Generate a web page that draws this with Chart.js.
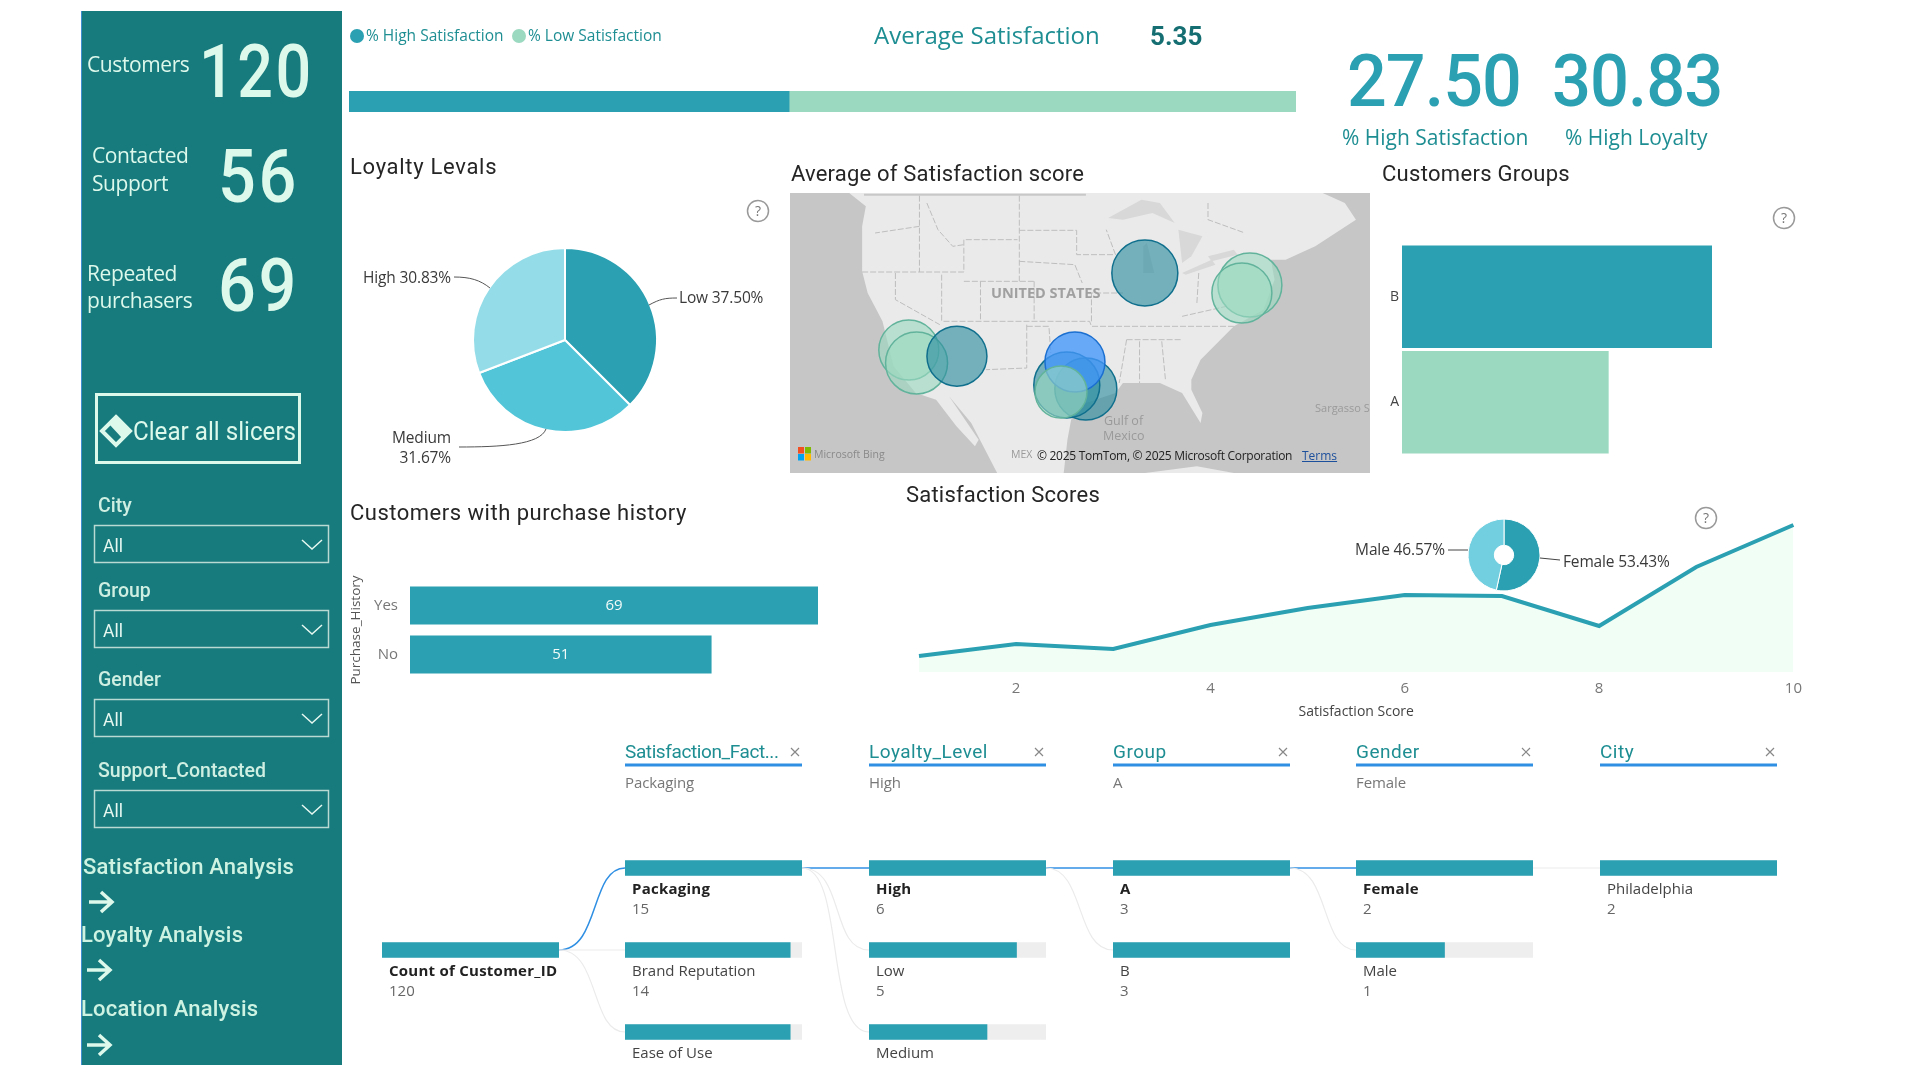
<!DOCTYPE html>
<html>
<head>
<meta charset="utf-8">
<title>Customer Satisfaction Dashboard</title>
<script src="https://cdn.jsdelivr.net/npm/chart.js@4"></script>
<style>
  html, body { margin: 0; padding: 0; background: #fff; }
  #page { position: relative; width: 1920px; height: 1080px; overflow: hidden; font-family: "Open Sans", sans-serif; }
  #sidebar { position: absolute; left: 81px; top: 11px; width: 261px; height: 1054px; background: #177A7D; border-left: 1px solid #3F8FD0; box-sizing: border-box; }
  #map { position: absolute; left: 790px; top: 193px; width: 580px; height: 280px; }
  canvas { position: absolute; }
  #overlay { position: absolute; left: 0; top: 0; }
  .t { position: absolute; white-space: nowrap; line-height: 1; }
  .din { font-family: Roboto, sans-serif; }
  .side { color: #DDF9EC; font-size: 21px; letter-spacing: -0.4px; }
  .kpi { color: #DDF9EC; font-family: Roboto, sans-serif; font-size: 74px; font-weight: 500; letter-spacing: 3px; }
  .slicer { color: #CFEFE2; font-family: Roboto, sans-serif; font-size: 19.5px; font-weight: 500; }
  .all { color: #E6F8F0; font-family: Roboto, sans-serif; font-size: 17.5px; }
  .nav { color: #CFF3E3; font-family: Roboto, sans-serif; font-size: 22px; font-weight: 500; letter-spacing: 0.2px; }
  .title { color: #252525; font-family: Roboto, sans-serif; font-size: 22px; letter-spacing: 0.2px; }
  .teal { color: #1E8E93; }
  .big { color: #2AA0B2; font-family: Roboto, sans-serif; font-size: 73px; font-weight: 500; letter-spacing: -1px; }
  .slice { color: #3A3A3A; font-size: 15.5px; letter-spacing: -0.15px; }
  .head { color: #1E8E93; font-family: Roboto, sans-serif; font-size: 19px; letter-spacing: 0.5px; }
  .sub { color: #777; font-size: 15px; letter-spacing: -0.1px; }
  .node { color: #444; font-size: 15px; }
  .node.on { color: #222; font-weight: 700; letter-spacing: 0.25px; }
  .val { color: #666; font-size: 15px; }
  .mapt { color: #9A9A9A; font-size: 12.5px; }
  #map path, #map polygon { vector-effect: non-scaling-stroke; }
</style>
</head>
<body>
<div id="page">
  <div id="sidebar"></div>
  <svg id="map" viewBox="0 0 1568 840" preserveAspectRatio="none" width="580" height="280">
    <rect width="1568" height="840" fill="#C6C6C6"/>
    <polygon fill="#EAEAEA" points="160,0 205,40 195,100 195,235 210,300 250,385 280,520 340,600 395,620 450,700 500,760 510,740 430,610 490,690 560,840 740,840 750,740 760,680 800,630 880,600 900,570 1000,570 1060,600 1110,690 1115,660 1085,590 1085,560 1110,500 1200,400 1280,350 1310,260 1300,200 1340,200 1420,160 1530,80 1500,30 1440,0"/>
    <polygon fill="#EAEAEA" points="960,840 1100,820 1200,840"/>
    <g fill="#D8D8D8">
      <polygon points="860,75 950,20 1000,30 1040,90 980,60 900,80"/>
      <polygon points="965,150 985,240 955,240 955,160"/>
      <polygon points="1050,110 1115,130 1085,190 1060,210"/>
      <polygon points="1060,240 1140,200 1150,215 1070,245"/>
      <polygon points="1130,190 1200,170 1210,185 1140,205"/>
    </g>
    <path d="M200,5 H800" fill="none" stroke="#C8C8C8" stroke-width="2"/>
    <g fill="none" stroke="#BEBEBE" stroke-width="1" stroke-dasharray="6 2">
      <path d="M195,237 H470 V140 H615 M350,8 V237 M620,8 V265 M470,265 H660"/>
      <path d="M620,112 H775 V185 H880 M620,205 L770,215 L790,270"/>
      <path d="M515,265 V385 M410,245 V385 M285,240 V320 L405,395 M415,385 H810 L815,400 H1200"/>
      <path d="M640,395 V525 L530,530 M660,265 V385 M815,385 V300 H900 M640,400 H700 L705,480"/>
      <path d="M910,440 L890,570 M945,445 V570 M1005,445 L1015,560 M910,440 H1060 M1105,240 L1100,330 M1060,370 L1180,340"/>
      <path d="M350,100 L230,120 M370,30 L400,110 L440,160 L470,155 M880,185 L855,110 M1130,30 V80 L1230,120"/>
    </g>
  </svg>
  <canvas id="mapChart" width="580" height="280" style="left:790px;top:193px"></canvas>
  <canvas id="satisfactionBar" width="947" height="21" style="left:349px;top:91px"></canvas>
  <canvas id="loyaltyPie" width="200" height="200" style="left:465px;top:240px"></canvas>
  <canvas id="groupChart" width="372" height="239" style="left:1340px;top:230px"></canvas>
  <canvas id="purchaseChart" width="473" height="140" style="left:345px;top:560px"></canvas>
  <canvas id="scoreChart" width="905" height="205" style="left:905px;top:515px"></canvas>
  <canvas id="genderChart" width="340" height="90" style="left:1334px;top:510px"></canvas>
  <svg id="overlay" width="1920" height="1080"></svg>
</div>
<script>
const highLowLabels = ["% High Satisfaction", "% Low Satisfaction"];
const highLowValues = [27.5, 31.67];

const loyaltyLabels = ["Low", "Medium", "High"];
const loyaltyValues = [37.5, 31.67, 30.83];

const groupLabels = ["B", "A"];
const groupValues = [72, 48];

const purchaseLabels = ["Yes", "No"];
const purchaseValues = [69, 51];

const scoreValues = [1, 2, 3, 4, 5, 6, 7, 8, 9, 10];
const scoreHeights = [16, 28, 23, 47, 64, 77, 76, 46, 105, 147]; // y axis is hidden in the source, relative reading
const scoreTicks = [2, 4, 6, 8, 10];

const genderLabels = ["Female", "Male"];
const genderValues = [53.43, 46.57];

const cityLon = [-87.6, -74.07, -75.1, -118, -117, -111.8, -95.2, -97.65, -96.6, -98.4];
const cityLat = [41.9, 40.67, 39.86, 34.03, 32.7, 33.4, 30.04, 30.45, 32.8, 29.73];
const citySize = [33, 32, 30, 30, 31, 30, 31, 33, 30, 26];
const cityBand = ["mid", "low", "low", "low", "low", "mid", "mid", "mid", "top", "low"];

const factorLabels = ["Packaging", "Brand Reputation", "Ease of Use"];
const factorValues = [15, 14, 14];
const loyaltyNodeLabels = ["High", "Low", "Medium"];
const loyaltyNodeValues = [6, 5, 4];
const treeGroupLabels = ["A", "B"];
const treeGroupValues = [3, 3];
const treeGenderLabels = ["Female", "Male"];
const treeGenderValues = [2, 1];
const cityLabels = ["Philadelphia"];
const cityValues = [2];
const treeHeaders = ["Satisfaction_Fact...", "Loyalty_Level", "Group", "Gender", "City"];
const treeSelected = ["Packaging", "High", "A", "Female", ""];

const TEAL = "#2AA0B2";
const MINT = "#9BD9C0";
const bandFill = { mid: "rgba(42,140,160,0.62)", low: "rgba(155,217,192,0.62)", top: "rgba(66,150,250,0.78)" };
const bandLine = { mid: "#0F6F8C", low: "#62B39B", top: "#1A6FD0" };

Chart.defaults.animation = false;
Chart.defaults.responsive = false;
Chart.defaults.font.family = "'Open Sans', sans-serif";
Chart.defaults.layout.autoPadding = false;
Chart.defaults.plugins.legend.display = false;
Chart.defaults.plugins.tooltip.enabled = false;

const page = document.getElementById("page");
const overlay = document.getElementById("overlay");

function text(str, x, y, cls, right) {
  const el = document.createElement("div");
  el.className = "t " + cls;
  el.textContent = str;
  el.style.left = x + "px";
  el.style.top = y + "px";
  el.style.transform = right ? "translate(-100%,-50%)" : "translateY(-50%)";
  page.appendChild(el);
  return el;
}

function squeeze(el, k) {
  el.style.transformOrigin = "0 50%";
  el.style.transform += ` scaleX(${k})`;
  return el;
}

function svg(markup) {
  overlay.insertAdjacentHTML("beforeend", markup);
}

function fixedWidth(w) {
  return (scale) => { scale.width = w; };
}

// top stacked bar
highLowLabels.forEach((name, i) => {
  const dotX = [357, 519][i];
  svg(`<circle cx="${dotX}" cy="36" r="7" fill="${[TEAL, MINT][i]}"/>`);
  text(name, dotX + 9, 36, "teal").style.fontSize = "15.5px";
});
new Chart(document.getElementById("satisfactionBar"), {
  type: "bar",
  data: {
    labels: [""],
    datasets: highLowLabels.map((name, i) => ({
      label: name,
      data: [highLowValues[i]],
      backgroundColor: [TEAL, MINT][i],
      barPercentage: 1,
      categoryPercentage: 1,
    })),
  },
  options: {
    indexAxis: "y",
    scales: {
      x: { stacked: true, display: false, min: 0, max: highLowValues[0] + highLowValues[1] },
      y: { stacked: true, display: false },
    },
  },
});

// loyalty pie
new Chart(document.getElementById("loyaltyPie"), {
  type: "pie",
  data: {
    labels: loyaltyLabels,
    datasets: [{ data: loyaltyValues, backgroundColor: [TEAL, "#52C5D8", "#94DDE8"], borderColor: "#fff", borderWidth: 2 }],
  },
  options: { radius: 92 },
});
text(`${loyaltyLabels[0]} ${loyaltyValues[0].toFixed(2)}%`, 679, 298, "slice");
text(`${loyaltyLabels[2]} ${loyaltyValues[2].toFixed(2)}%`, 451, 278, "slice", true);
text(loyaltyLabels[1], 451, 438, "slice", true);
text(`${loyaltyValues[1].toFixed(2)}%`, 451, 458, "slice", true);
svg(`<g fill="none" stroke="#555" stroke-width="1">
  <path d="M649,305 C660,299 665,298 677,298"/>
  <path d="M454,277 C470,277 480,280 490,288"/>
  <path d="M459,447 C500,447 540,445 546,429"/></g>`);

// map bubbles
new Chart(document.getElementById("mapChart"), {
  type: "bubble",
  data: {
    datasets: [{
      data: cityLon.map((lon, i) => ({ x: lon, y: cityLat[i], r: citySize[i] })),
      backgroundColor: cityBand.map((b) => bandFill[b]),
      borderColor: cityBand.map((b) => bandLine[b]),
      borderWidth: 1.5,
    }],
  },
  options: {
    scales: {
      x: { display: false, min: -133.3, max: -58.6 },
      y: { display: false, min: 21.45, max: 50.08 },
    },
  },
});
text("UNITED STATES", 991, 293, "mapt").style.cssText += "font-weight:700;font-size:14.5px;color:#A0A0A0";
text("Gulf of", 1104, 421, "mapt");
text("Mexico", 1103, 436, "mapt");
text("Sargasso S", 1315, 407, "mapt").style.fontSize = "11px";
text("Microsoft Bing", 814, 454, "mapt").style.cssText += "font-size:10.5px;color:#8A8A8A";
text("MEX", 1011, 454, "mapt").style.fontSize = "10.5px";
text("© 2025 TomTom, © 2025 Microsoft Corporation", 1037, 456, "mapt").style.cssText += "color:#222;font-size:12px;letter-spacing:-0.28px";
text("Terms", 1302, 456, "mapt").style.cssText += "color:#1C4F9C;font-size:12px;text-decoration:underline";
svg(`<g><rect x="798" y="447" width="6" height="6.5" fill="#F25022"/><rect x="805" y="447" width="6" height="6.5" fill="#7FBA00"/>
  <rect x="798" y="454" width="6" height="6.5" fill="#00A4EF"/><rect x="805" y="454" width="6" height="6.5" fill="#FFB900"/></g>`);

// customer groups
new Chart(document.getElementById("groupChart"), {
  type: "bar",
  data: {
    labels: groupLabels,
    datasets: [{ data: groupValues, backgroundColor: [TEAL, MINT], barPercentage: 0.97, categoryPercentage: 1 }],
  },
  options: {
    indexAxis: "y",
    layout: { padding: { top: 14, bottom: 14 } },
    scales: {
      x: { display: false, min: 0, max: groupValues[0] },
      y: {
        afterFit: fixedWidth(62),
        grid: { display: false, drawTicks: false },
        border: { display: false },
        ticks: { color: "#444", font: { size: 14 }, padding: 3 },
      },
    },
  },
});

// purchase history bars
const centerLabels = {
  id: "centerLabels",
  afterDatasetsDraw(chart) {
    const { ctx } = chart;
    ctx.save();
    ctx.fillStyle = "#F2FBF8";
    ctx.font = "15px 'Open Sans', sans-serif";
    ctx.textAlign = "center";
    ctx.textBaseline = "middle";
    chart.getDatasetMeta(0).data.forEach((bar, i) => {
      ctx.fillText(purchaseValues[i], chart.chartArea.left + (bar.x - chart.chartArea.left) / 2, bar.y);
    });
    ctx.restore();
  },
};
new Chart(document.getElementById("purchaseChart"), {
  type: "bar",
  data: {
    labels: purchaseLabels,
    datasets: [{ data: purchaseValues, backgroundColor: TEAL, barPercentage: 0.78, categoryPercentage: 1 }],
  },
  options: {
    indexAxis: "y",
    layout: { padding: { top: 21, bottom: 21 } },
    scales: {
      x: { display: false, min: 0, max: purchaseValues[0] },
      y: {
        afterFit: fixedWidth(65),
        grid: { display: false, drawTicks: false },
        border: { display: false },
        ticks: { color: "#777", font: { size: 15 }, padding: 12 },
        title: { display: true, text: "Purchase_History", color: "#555", font: { size: 13.5 }, padding: { top: 3, bottom: 0 } },
      },
    },
  },
  plugins: [centerLabels],
});

// satisfaction score area line
new Chart(document.getElementById("scoreChart"), {
  type: "line",
  data: {
    datasets: [{
      data: scoreValues.map((v, i) => ({ x: v, y: scoreHeights[i] })),
      borderColor: TEAL,
      borderWidth: 4,
      backgroundColor: "#F0FEF6",
      fill: "origin",
      pointRadius: 0,
      tension: 0,
      clip: false,
    }],
  },
  options: {
    layout: { padding: { left: 14, right: 16, top: 10 } },
    scales: {
      x: {
        type: "linear",
        min: 1,
        max: 10,
        afterFit: (scale) => { scale.height = 48; },
        grid: { display: false, drawTicks: false },
        border: { display: false },
        ticks: {
          stepSize: 1,
          autoSkip: false,
          maxRotation: 0,
          padding: 8,
          color: "#777",
          font: { size: 15 },
          callback: (v) => (scoreTicks.includes(v) ? v : ""),
        },
        title: { display: true, text: "Satisfaction Score", color: "#444", font: { size: 14 }, padding: 0 },
      },
      y: { display: false, min: 0, max: 147 },
    },
  },
});

// gender donut on top of the line
new Chart(document.getElementById("genderChart"), {
  type: "doughnut",
  data: {
    labels: genderLabels,
    datasets: [{ data: genderValues, backgroundColor: [TEAL, "#72CFDF"], borderColor: "#fff", borderWidth: 1 }],
  },
  options: { radius: 36, cutout: 12 },
});
text(`${genderLabels[1]} ${genderValues[1].toFixed(2)}%`, 1445, 550, "slice", true);
text(`${genderLabels[0]} ${genderValues[0].toFixed(2)}%`, 1563, 562, "slice");
svg(`<g fill="none" stroke="#444" stroke-width="1"><path d="M1448,550 H1468"/><path d="M1540,558 L1560,560"/></g>`);

// decomposition tree, one small bar chart per column
const treeColumns = [
  { left: 382, rows: [1], labels: ["Count of Customer_ID"], values: [120], selected: "Count of Customer_ID" },
  { left: 625, rows: [0, 1, 2], labels: factorLabels, values: factorValues, selected: treeSelected[0] },
  { left: 869, rows: [0, 1, 2], labels: loyaltyNodeLabels, values: loyaltyNodeValues, selected: treeSelected[1] },
  { left: 1113, rows: [0, 1], labels: treeGroupLabels, values: treeGroupValues, selected: treeSelected[2] },
  { left: 1356, rows: [0, 1], labels: treeGenderLabels, values: treeGenderValues, selected: treeSelected[3] },
  { left: 1600, rows: [0], labels: cityLabels, values: cityValues, selected: treeSelected[4] },
];

treeColumns.forEach((col) => {
  const cv = document.createElement("canvas");
  cv.width = 177;
  cv.height = col.rows.length * 82;
  cv.style.left = col.left + "px";
  cv.style.top = 827 + col.rows[0] * 82 + "px";
  page.appendChild(cv);
  const top = Math.max(...col.values);
  new Chart(cv, {
    type: "bar",
    data: {
      labels: col.labels,
      datasets: [
        { data: col.values, backgroundColor: TEAL, grouped: false, order: 1, barThickness: 15 },
        { data: col.values.map(() => top), backgroundColor: "#EEEEEE", grouped: false, order: 2, barThickness: 15 },
      ],
    },
    options: {
      indexAxis: "y",
      scales: {
        x: { display: false, min: 0, max: top },
        y: { display: false },
      },
    },
  });
  col.rows.forEach((row, i) => {
    const y = 868 + row * 82;
    const on = col.labels[i] === col.selected;
    text(col.labels[i], col.left + 7, y + 20, on ? "node on" : "node");
    // the last row runs off the bottom of the source picture, so no count there
    if (row < 2) text(col.values[i], col.left + 7, y + 40, "val");
  });
});

treeHeaders.forEach((name, i) => {
  const left = treeColumns[i + 1].left;
  const head = text(name, left, 751, "head");
  if (i === 0) head.style.letterSpacing = "-0.4px";
  text(treeSelected[i], left, 782, "sub");
  svg(`<rect x="${left}" y="763.5" width="177" height="3" fill="#2F8FE3"/>`);
  svg(`<g stroke="#888" stroke-width="1.2"><path d="M${left + 166},748 l8,8 M${left + 174},748 l-8,8"/></g>`);
});

svg(`<g fill="none" stroke="#2F8FE3" stroke-width="1.5">
  <path d="M559,950 C600,950 590,868 625,868"/><path d="M802,868 H869"/><path d="M1046,868 H1113"/><path d="M1290,868 H1356"/></g>
  <g fill="none" stroke="#EBEBEB" stroke-width="1.2">
  <path d="M559,950 H625"/><path d="M559,950 C600,950 590,1032 625,1032"/>
  <path d="M802,868 C845,868 830,950 869,950"/><path d="M802,868 C845,868 825,1032 869,1032"/>
  <path d="M1046,868 C1085,868 1075,950 1113,950"/><path d="M1290,868 C1330,868 1320,950 1356,950"/>
  <path d="M1533,868 H1600"/></g>`);

// sidebar
text("Customers", 87, 64, "side");
squeeze(text("120", 199, 72, "kpi"), 0.85);
text("Contacted", 92, 155, "side");
text("Support", 92, 183, "side");
squeeze(text("56", 218, 177, "kpi"), 0.9);
text("Repeated", 87, 273, "side");
text("purchasers", 87, 300, "side");
squeeze(text("69", 218, 286, "kpi"), 0.9);

svg(`<rect x="96.5" y="394.5" width="203" height="68" fill="none" stroke="#DDF9EC" stroke-width="3"/>
  <path d="M116,417 L130,431 L116,445 L102,431 Z" fill="none" stroke="#DDF9EC" stroke-width="4"/>
  <path d="M116,417 L130,431 L122,438 L109,424 Z" fill="#DDF9EC"/>`);
squeeze(text("Clear all slicers", 133, 431, "din"), 0.93).style.cssText += "color:#DDF9EC;font-size:26px";

const slicerNames = ["City", "Group", "Gender", "Support_Contacted"];
const slicerTops = [525, 610, 699, 790];
slicerNames.forEach((name, i) => {
  const t = slicerTops[i];
  text(name, 98, t - 19, "slicer");
  text("All", 103, t + 22, "all");
  svg(`<rect x="94.5" y="${t + 0.5}" width="234" height="37" fill="none" stroke="#B9D9D3" stroke-width="1.5"/>
    <path d="M302,${t + 15} l10,9 l10,-9" fill="none" stroke="#E6F8F0" stroke-width="1.5"/>`);
});

const navNames = ["Satisfaction Analysis", "Loyalty Analysis", "Location Analysis"];
const navRows = [[83, 867, 89, 902], [81, 935, 87, 970], [81, 1009, 87, 1045]];
navNames.forEach((name, i) => {
  const [tx, ty, ax, ay] = navRows[i];
  text(name, tx, ty, "nav");
  svg(`<path d="M${ax},${ay} h22 M${ax + 12},${ay - 10} l11,10 l-11,10" fill="none" stroke="#DDF9EC" stroke-width="3.5"/>`);
});

// titles and big numbers
text("Loyalty Levals", 350, 167, "title").style.letterSpacing = "0.7px";
text("Customers with purchase history", 350, 513, "title").style.letterSpacing = "0.5px";
text("Average of Satisfaction score", 791, 174, "title");
text("Customers Groups", 1382, 174, "title").style.letterSpacing = "0.3px";
text("Satisfaction Scores", 906, 495, "title");

text("Average Satisfaction", 874, 35, "teal").style.fontSize = "24px";
text("5.35", 1150, 36, "din").style.cssText += "color:#156E72;font-size:26px;font-weight:700";
squeeze(text("27.50", 1347, 81, "big"), 0.96);
squeeze(text("30.83", 1552, 81, "big"), 0.94);
text("% High Satisfaction", 1342, 137, "teal").style.fontSize = "21px";
text("% High Loyalty", 1565, 137, "teal").style.fontSize = "21px";

[[758, 211], [1784, 218], [1706, 518]].forEach(([cx, cy]) => {
  svg(`<circle cx="${cx}" cy="${cy}" r="10.5" fill="#fff" stroke="#999" stroke-width="1.5"/>
    <text x="${cx}" y="${cy + 5}" text-anchor="middle" font-size="14" fill="#777" font-family="Open Sans">?</text>`);
});
</script>
</body>
</html>
